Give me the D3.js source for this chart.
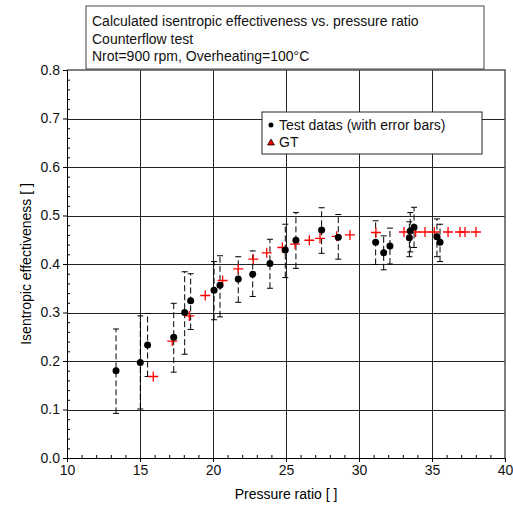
<!DOCTYPE html>
<html>
<head>
<meta charset="utf-8">
<script src="https://cdn.jsdelivr.net/npm/d3@7"></script>
<style>
  body { margin: 0; background: #fff; }
  text { font-family: "Liberation Sans", Arial, sans-serif; }
</style>
</head>
<body>
<svg></svg>
<script>
const width = 513;
const height = 506;

// test data (black dots) with their error bars
const testX    = [13.36, 15.02, 15.52, 17.31, 18.06, 18.47, 20.07, 20.48, 21.73, 22.72, 23.90, 24.95, 25.68, 27.44, 28.58, 31.14, 31.69, 32.12, 33.45, 33.51, 33.77, 35.34, 35.55];
const testY    = [0.180, 0.197, 0.233, 0.249, 0.300, 0.324, 0.346, 0.356, 0.369, 0.379, 0.401, 0.429, 0.449, 0.470, 0.455, 0.445, 0.423, 0.437, 0.454, 0.468, 0.476, 0.456, 0.445];
const testLow  = [0.092, 0.101, 0.168, 0.177, 0.214, 0.265, 0.285, 0.291, 0.321, 0.333, 0.350, 0.372, 0.391, 0.422, 0.410, 0.399, 0.388, 0.400, 0.415, 0.425, 0.434, 0.415, 0.405];
const testHigh = [0.266, 0.293, 0.298, 0.319, 0.384, 0.380, 0.405, 0.417, 0.415, 0.427, 0.451, 0.482, 0.506, 0.516, 0.502, 0.489, 0.458, 0.474, 0.487, 0.506, 0.517, 0.493, 0.482];

// GT model (red crosses)
const gtX = [15.91, 17.21, 18.38, 19.47, 20.66, 21.73, 22.76, 23.68, 24.75, 25.62, 26.60, 27.33, 28.47, 29.38, 31.16, 33.08, 33.88, 34.52, 35.16, 36.10, 36.92, 37.26, 38.01];
const gtY = [0.168, 0.241, 0.293, 0.335, 0.366, 0.390, 0.410, 0.423, 0.434, 0.441, 0.449, 0.453, 0.457, 0.460, 0.465, 0.466, 0.466, 0.466, 0.466, 0.466, 0.466, 0.466, 0.466];

const xTicks = [10, 15, 20, 25, 30, 35, 40];
const yTicks = [0, 0.1, 0.2, 0.3, 0.4, 0.5, 0.6, 0.7, 0.8];

const noteLines = [
  'Calculated isentropic effectiveness vs. pressure ratio',
  'Counterflow test',
  'Nrot=900 rpm, Overheating=100°C'
];
const legendLabels = ['Test datas (with error bars)', 'GT'];

const plot = { left: 67, right: 505, top: 70, bottom: 458 };

const svg = d3.select('svg')
              .attr('width', width)
              .attr('height', height);

const x = d3.scaleLinear().domain([10, 40]).range([plot.left, plot.right]);
const y = d3.scaleLinear().domain([0, 0.8]).range([plot.bottom, plot.top]);

// grid lines
svg.append('g')
   .attr('transform', `translate(0,${plot.bottom})`)
   .call(d3.axisBottom(x).tickValues(xTicks.slice(1, -1)).tickSize(-(plot.bottom - plot.top)).tickFormat(''))
   .call(g => g.select('.domain').remove())
   .selectAll('line').attr('stroke', '#222').attr('shape-rendering', 'crispEdges');

svg.append('g')
   .attr('transform', `translate(${plot.left},0)`)
   .call(d3.axisLeft(y).tickValues(yTicks.slice(1, -1)).tickSize(-(plot.right - plot.left)).tickFormat(''))
   .call(g => g.select('.domain').remove())
   .selectAll('line').attr('stroke', '#222').attr('shape-rendering', 'crispEdges');

// frame (top and right)
svg.append('path')
   .attr('d', `M${plot.left},${plot.top}H${plot.right}V${plot.bottom}`)
   .attr('fill', 'none')
   .attr('stroke', '#555')
   .attr('stroke-width', 1.5);

// minor ticks, pointing inward
svg.append('g')
   .attr('transform', `translate(0,${plot.bottom})`)
   .call(d3.axisTop(x).tickValues(d3.range(11, 40).filter(v => v % 5 !== 0)).tickSize(3).tickFormat(''))
   .call(g => g.select('.domain').remove());

svg.append('g')
   .attr('transform', `translate(${plot.left},0)`)
   .call(d3.axisRight(y).tickValues(d3.range(1, 40).filter(v => v % 5 !== 0).map(v => v * 0.02)).tickSize(3).tickFormat(''))
   .call(g => g.select('.domain').remove());

// main axes
const xAxis = svg.append('g')
   .attr('transform', `translate(0,${plot.bottom})`)
   .call(d3.axisBottom(x).tickValues(xTicks).tickSize(4).tickPadding(3).tickFormat(d3.format('d')));

const yAxis = svg.append('g')
   .attr('transform', `translate(${plot.left},0)`)
   .call(d3.axisLeft(y).tickValues(yTicks).tickSize(4).tickPadding(3).tickFormat(d3.format('.1f')));

[xAxis, yAxis].forEach(a => {
  a.selectAll('text').attr('font-size', 14).attr('fill', '#111')
   .attr('font-family', '"Liberation Sans", Arial, sans-serif');
  a.select('.domain').attr('stroke', '#000');
});

// axis titles
svg.append('text')
   .attr('x', (plot.left + plot.right) / 2)
   .attr('y', 499)
   .attr('text-anchor', 'middle')
   .attr('font-size', 14)
   .text('Pressure ratio [ ]');

svg.append('text')
   .attr('transform', `translate(31,${(plot.top + plot.bottom) / 2}) rotate(-90)`)
   .attr('text-anchor', 'middle')
   .attr('font-size', 14)
   .text('Isentropic effectiveness [ ]');

// error bars
const test = testX.map((v, i) => ({ x: v, y: testY[i], lo: testLow[i], hi: testHigh[i] }));

const bars = svg.append('g').selectAll('g')
                .data(test)
                .enter()
                .append('g')
                  .attr('stroke', '#000')
                  .attr('stroke-width', 1);

bars.append('line')
    .attr('x1', d => x(d.x)).attr('x2', d => x(d.x))
    .attr('y1', d => y(d.lo)).attr('y2', d => y(d.hi))
    .attr('stroke-dasharray', '6,3');

bars.selectAll('.cap')
    .data(d => [{ x: d.x, v: d.lo }, { x: d.x, v: d.hi }])
    .enter()
    .append('line')
      .attr('class', 'cap')
      .attr('x1', d => x(d.x) - 3).attr('x2', d => x(d.x) + 3)
      .attr('y1', d => y(d.v)).attr('y2', d => y(d.v));

// GT crosses
svg.append('g').selectAll('path')
   .data(gtX.map((v, i) => ({ x: v, y: gtY[i] })))
   .enter()
   .append('path')
     .attr('transform', d => `translate(${x(d.x)},${y(d.y)})`)
     .attr('d', 'M-5,0H5M0,-5V5')
     .attr('stroke', '#f00')
     .attr('stroke-width', 1.3)
     .attr('fill', 'none');

// test dots
svg.append('g').selectAll('circle')
   .data(test)
   .enter()
   .append('circle')
     .attr('cx', d => x(d.x))
     .attr('cy', d => y(d.y))
     .attr('r', 3.5)
     .attr('fill', '#000');

// note box
const note = svg.append('g');
note.append('rect')
    .attr('x', 86).attr('y', 6)
    .attr('width', 398).attr('height', 63)
    .attr('fill', '#fff')
    .attr('stroke', '#444');
note.selectAll('text')
    .data(noteLines)
    .enter()
    .append('text')
      .attr('x', 92)
      .attr('y', (d, i) => 26 + i * 17.5)
      .attr('font-size', 14)
      .attr('fill', '#111')
      .text(d => d);

// legend
const legend = svg.append('g');
legend.append('rect')
      .attr('x', 262).attr('y', 112)
      .attr('width', 220).attr('height', 42)
      .attr('fill', '#fff')
      .attr('stroke', '#222');
legend.selectAll('text')
      .data(legendLabels)
      .enter()
      .append('text')
        .attr('x', 279)
        .attr('y', (d, i) => 130 + i * 17)
        .attr('font-size', 14)
        .attr('fill', '#111')
        .text(d => d);
legend.append('circle')
      .attr('cx', 271).attr('cy', 125)
      .attr('r', 2.5)
      .attr('fill', '#000');
legend.append('path')
      .attr('d', 'M267.5,145 L274.5,145 L271,139 Z')
      .attr('fill', '#e00')
      .attr('stroke', '#000')
      .attr('stroke-width', 0.7);
</script>
</body>
</html>
